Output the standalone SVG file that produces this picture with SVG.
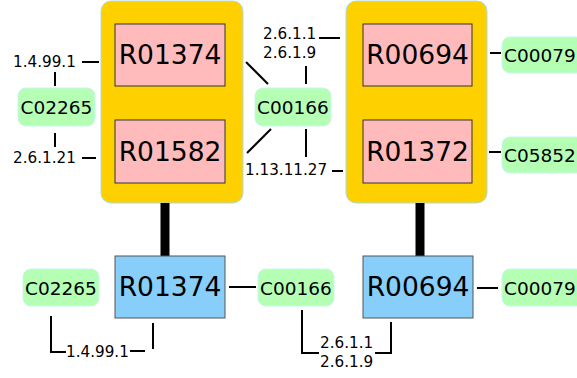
<svg xmlns="http://www.w3.org/2000/svg" width="577" height="378" viewBox="0 0 577 378">
<style>
.grp{fill:#FFD000;stroke:#A8DDE8;stroke-width:1}
.rx{fill:#FFBBBB;stroke:#333;stroke-width:1}
.bl{fill:#87CEFA;stroke:#555;stroke-width:1}
.cp{fill:#B4FFB4;stroke:#C8F4F0;stroke-width:1}
.big{font-family:"DejaVu Sans",sans-serif;font-size:26.5px;fill:#000;text-anchor:middle}
.mid{font-family:"DejaVu Sans",sans-serif;font-size:18.5px;fill:#000;text-anchor:middle}
.lb{font-family:"DejaVu Sans",sans-serif;font-size:15.2px;fill:#000}
.ln{stroke:#000;stroke-width:2;fill:none}
.th{stroke:#000;stroke-width:9;fill:none}
</style>
<rect width="577" height="378" fill="#fff"/>
<g id="group1"><rect class="grp" x="101" y="1" width="142" height="202" rx="10"/></g>
<g id="group2"><rect class="grp" x="346" y="1" width="141" height="202" rx="10"/></g>
<g id="connectors">
<line class="th" x1="165" y1="203" x2="165" y2="256"/>
<line class="th" x1="420" y1="203" x2="420" y2="256"/>
<line class="ln" x1="82" y1="62" x2="99" y2="62"/>
<line class="ln" x1="55" y1="72" x2="55" y2="86"/>
<line class="ln" x1="55" y1="133" x2="55" y2="147"/>
<line class="ln" x1="82" y1="158" x2="96" y2="158"/>
<line class="ln" x1="246" y1="62" x2="268" y2="84"/>
<line class="ln" x1="247" y1="153" x2="271" y2="129"/>
<line class="ln" x1="319" y1="38" x2="340" y2="38"/>
<line class="ln" x1="306" y1="66" x2="306" y2="84"/>
<line class="ln" x1="306" y1="129" x2="306" y2="157"/>
<line class="ln" x1="332" y1="171" x2="343" y2="171"/>
<line class="ln" x1="490" y1="53" x2="501" y2="53"/>
<line class="ln" x1="489" y1="152" x2="501" y2="152"/>
<line class="ln" x1="229" y1="287" x2="256" y2="287"/>
<line class="ln" x1="477" y1="288" x2="498" y2="288"/>
<polyline class="ln" points="51,316 51,352 66,352"/>
<polyline class="ln" points="130,351 145,351"/>
<line class="ln" x1="153" y1="323" x2="153" y2="349"/>
<polyline class="ln" points="302,310 302,353 319,353"/>
<polyline class="ln" points="375,353 391,353 391,322"/>
</g>
<g id="R01374"><rect class="rx" x="115" y="24" width="110" height="62"/><text class="big" x="170" y="64">R01374</text></g>
<g id="R01582"><rect class="rx" x="115" y="120" width="110" height="63"/><text class="big" x="170" y="161">R01582</text></g>
<g id="R00694"><rect class="rx" x="363" y="24" width="109" height="62"/><text class="big" x="417.5" y="64">R00694</text></g>
<g id="R01372"><rect class="rx" x="363" y="120" width="109" height="63"/><text class="big" x="417.5" y="161">R01372</text></g>
<g id="C02265a"><rect class="cp" x="18" y="88" width="77" height="38" rx="8"/><text class="mid" x="56.5" y="114">C02265</text></g>
<g id="C00166a"><rect class="cp" x="255" y="88" width="76" height="38" rx="8"/><text class="mid" x="293" y="114">C00166</text></g>
<g id="C00079a"><rect class="cp" x="502" y="37" width="82" height="36" rx="8"/><text class="mid" x="540" y="62">C00079</text></g>
<g id="C05852"><rect class="cp" x="502" y="137" width="82" height="36" rx="8"/><text class="mid" x="540" y="162">C05852</text></g>
<g id="R01374b"><rect class="bl" x="115" y="256" width="110" height="62"/><text class="big" x="170" y="296">R01374</text></g>
<g id="R00694b"><rect class="bl" x="363" y="256" width="110" height="62"/><text class="big" x="418" y="296">R00694</text></g>
<g id="C02265b"><rect class="cp" x="23" y="269" width="76" height="37" rx="8"/><text class="mid" x="61" y="295">C02265</text></g>
<g id="C00166b"><rect class="cp" x="258" y="269" width="76" height="37" rx="8"/><text class="mid" x="296" y="295">C00166</text></g>
<g id="C00079b"><rect class="cp" x="502" y="269" width="82" height="37" rx="8"/><text class="mid" x="540" y="295">C00079</text></g>
<g id="labels">
<text class="lb" x="13" y="67">1.4.99.1</text>
<text class="lb" x="13" y="163">2.6.1.21</text>
<text class="lb" x="263" y="39">2.6.1.1</text>
<text class="lb" x="263" y="58">2.6.1.9</text>
<text class="lb" x="245" y="175">1.13.11.27</text>
<text class="lb" x="66" y="357">1.4.99.1</text>
<text class="lb" x="320" y="348">2.6.1.1</text>
<text class="lb" x="320" y="367">2.6.1.9</text>
</g>
</svg>
